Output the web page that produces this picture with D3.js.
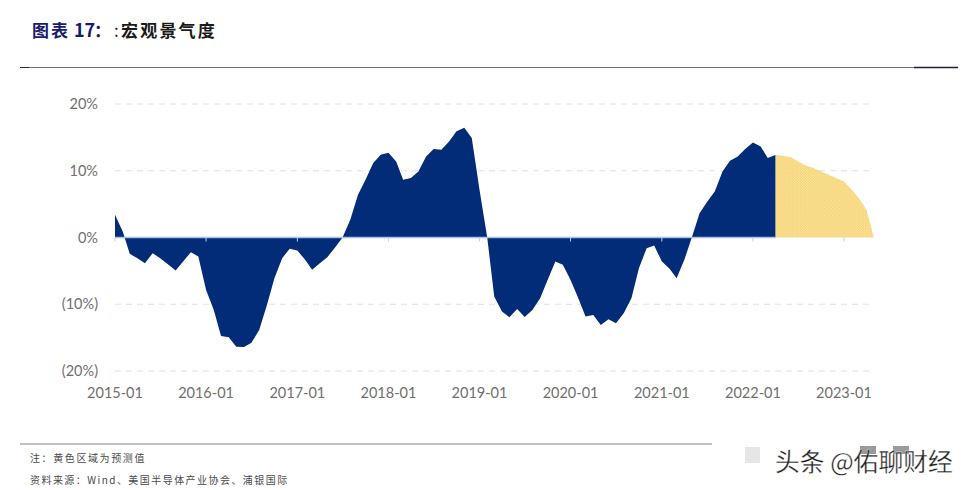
<!DOCTYPE html>
<html>
<head>
<meta charset="utf-8">
<script src="https://cdn.jsdelivr.net/npm/d3@7"></script>
<style>
  html, body { margin: 0; padding: 0; background: #fff; }
  svg { display: block; }
  .tick-text { font-family: Lato, "Open Sans", sans-serif; font-size: 14.5px; fill: #6f6f6f; }
  .cjk { font-family: "Noto Sans CJK SC", sans-serif; }
</style>
</head>
<body>
<svg id="chart" width="967" height="490"></svg>
<script>
// monthly readings, 2015-01 onwards
var actualValues = [
  3.4, 0.9, -2.45, -3.1, -3.85, -2.35, -3.1, -4, -4.95, -3.6, -2.2, -2.85,
  -7.85, -10.85, -14.75, -14.95, -16.35, -16.4, -15.75, -13.85, -10.1, -6.1, -3.1, -1.7,
  -1.95, -3.35, -4.85, -3.85, -2.95, -1.5, 0, 2.65, 6.4, 8.65, 11.15, 12.4,
  12.7, 11.4, 8.65, 8.9, 9.9, 12.15, 13.25, 13.15, 14.4, 15.9, 16.45, 14.9,
  7.15, 0, -8.85, -11.1, -11.95, -10.7, -11.9, -10.85, -9.1, -6.35, -3.6, -4.1,
  -6.35, -9.1, -11.85, -11.6, -13.1, -12.25, -12.85, -11.35, -9.1, -4.6, -1.6, -1.2,
  -3.6, -4.7, -6.1, -3.35, 0, 3.65, 5.3, 6.9, 9.9, 11.5, 12.15, 13.25,
  14.25, 13.65, 11.9, 12.35
];
// forecast part starts on the last actual month
var forecastValues = [
  12.35, 12.25, 12.05, 11.4, 10.8, 10.4, 9.9, 9.4, 8.9, 8.4, 7.15, 5.9, 4.15, 0
];
var yTicks = [20, 10, 0, -10, -20];
var yLabels = ['20%', '10%', '0%', '(10%)', '(20%)'];
var xLabels = ['2015-01', '2016-01', '2017-01', '2018-01', '2019-01', '2020-01', '2021-01', '2022-01', '2023-01'];

var parseMonth = d3.timeParse('%Y-%m');
var startMonth = parseMonth(xLabels[0]);
var actualData = actualValues.map(function(v, i) {
  return { date: d3.timeMonth.offset(startMonth, i), value: v };
});
var forecastData = forecastValues.map(function(v, i) {
  return { date: d3.timeMonth.offset(startMonth, actualValues.length - 1 + i), value: v };
});

var svg = d3.select('#chart');

var x = d3.scaleTime()
  .domain([startMonth, parseMonth(xLabels[8])])
  .range([115, 844]);
var y = d3.scaleLinear()
  .domain([-20, 20])
  .range([371, 104]);

// yellow dot pattern for the forecast
var pattern = svg.append('defs').append('pattern')
  .attr('id', 'dots')
  .attr('patternUnits', 'userSpaceOnUse')
  .attr('width', 2.6)
  .attr('height', 2.6);
pattern.append('rect').attr('width', 2.6).attr('height', 2.6).attr('fill', '#fde7a0');
pattern.append('circle').attr('cx', 0.65).attr('cy', 0.65).attr('r', 0.6).attr('fill', '#efc256');
pattern.append('circle').attr('cx', 1.95).attr('cy', 1.95).attr('r', 0.6).attr('fill', '#efc256');

// gridlines
svg.append('g').selectAll('line')
  .data(yTicks.filter(function(d) { return d !== 0; }))
  .join('line')
  .attr('x1', 115)
  .attr('x2', 870)
  .attr('y1', function(d) { return y(d); })
  .attr('y2', function(d) { return y(d); })
  .attr('stroke', '#e0e0e0')
  .attr('stroke-width', 1)
  .attr('stroke-dasharray', '6 5');

var area = d3.area()
  .x(function(d) { return x(d.date); })
  .y0(y(0))
  .y1(function(d) { return y(d.value); });

svg.append('path')
  .datum(forecastData)
  .attr('d', area)
  .attr('fill', 'url(#dots)');

svg.append('path')
  .datum(actualData)
  .attr('d', area)
  .attr('fill', '#022b78');

// zero line
svg.append('line')
  .attr('x1', x(startMonth))
  .attr('x2', x(actualData[actualData.length - 1].date))
  .attr('y1', y(0))
  .attr('y2', y(0))
  .attr('stroke', '#a9bfe3')
  .attr('stroke-width', 1.5);

// ticks under the zero line
svg.append('g').selectAll('line')
  .data(xLabels)
  .join('line')
  .attr('x1', function(d) { return x(parseMonth(d)); })
  .attr('x2', function(d) { return x(parseMonth(d)); })
  .attr('y1', y(0))
  .attr('y2', y(0) + 4)
  .attr('stroke', '#c4d2ea')
  .attr('stroke-width', 1);

// y labels
svg.append('g').selectAll('text')
  .data(yTicks)
  .join('text')
  .attr('class', 'tick-text')
  .attr('x', 98)
  .attr('y', function(d) { return y(d) + 5; })
  .attr('text-anchor', 'end')
  .text(function(d, i) { return yLabels[i]; });

// x labels
svg.append('g').selectAll('text')
  .data(xLabels)
  .join('text')
  .attr('class', 'tick-text')
  .attr('x', function(d) { return x(parseMonth(d)); })
  .attr('y', 398)
  .attr('text-anchor', 'middle')
  .text(function(d) { return d; });

// title
var title = svg.append('text')
  .attr('class', 'cjk')
  .attr('y', 37)
  .attr('font-size', 17)
  .attr('font-weight', 700);
title.append('tspan').attr('x', 32).attr('fill', '#1c1a6b').attr('letter-spacing', 2).text('图表');
title.append('tspan').attr('x', 74).attr('fill', '#1c1a6b').attr('font-size', 18).text('17');
title.append('tspan').attr('x', 94).attr('fill', '#1c1a6b').text('\uFF1A');
title.append('tspan').attr('x', 114).attr('fill', '#1a1a1a').attr('font-weight', 400).text(':');
title.append('tspan').attr('x', 121).attr('fill', '#1a1a1a').attr('letter-spacing', 2.2).text('宏观景气度');

// rules
svg.append('line').attr('x1', 20).attr('x2', 958).attr('y1', 67.5).attr('y2', 67.5)
  .attr('stroke', '#5d6f8c').attr('stroke-width', 1);
svg.append('line').attr('x1', 20).attr('x2', 29).attr('y1', 67.5).attr('y2', 67.5)
  .attr('stroke', '#222b40').attr('stroke-width', 1);
svg.append('line').attr('x1', 914).attr('x2', 958).attr('y1', 67.5).attr('y2', 67.5)
  .attr('stroke', '#14233f').attr('stroke-width', 1.6);
svg.append('line').attr('x1', 20).attr('x2', 712).attr('y1', 444).attr('y2', 444)
  .attr('stroke', '#7b8496').attr('stroke-width', 1.2);

// footnotes
svg.append('text').attr('class', 'cjk').attr('x', 30).attr('y', 462)
  .attr('font-size', 10).attr('letter-spacing', 1.6).attr('fill', '#4a4a4a')
  .text('注\uFF1A黄色区域为预测值');
svg.append('text').attr('class', 'cjk').attr('x', 30).attr('y', 484)
  .attr('font-size', 10).attr('letter-spacing', 1.45).attr('fill', '#4a4a4a')
  .text('资料来源\uFF1AWind、美国半导体产业协会、浦银国际');

// watermark
svg.append('rect').attr('x', 745).attr('y', 447).attr('width', 15).attr('height', 16).attr('fill', '#e6e6e6');
svg.append('rect').attr('x', 860).attr('y', 446).attr('width', 16).attr('height', 8).attr('fill', '#9a9a9a');
svg.append('rect').attr('x', 893).attr('y', 446).attr('width', 16).attr('height', 8).attr('fill', '#9a9a9a');
svg.append('text').attr('class', 'cjk').attr('x', 775).attr('y', 471)
  .attr('font-size', 24.8).attr('fill', '#1f1f1f').attr('stroke', '#fff').attr('stroke-width', 0.3)
  .text('头条 @佑聊财经');
</script>
</body>
</html>
